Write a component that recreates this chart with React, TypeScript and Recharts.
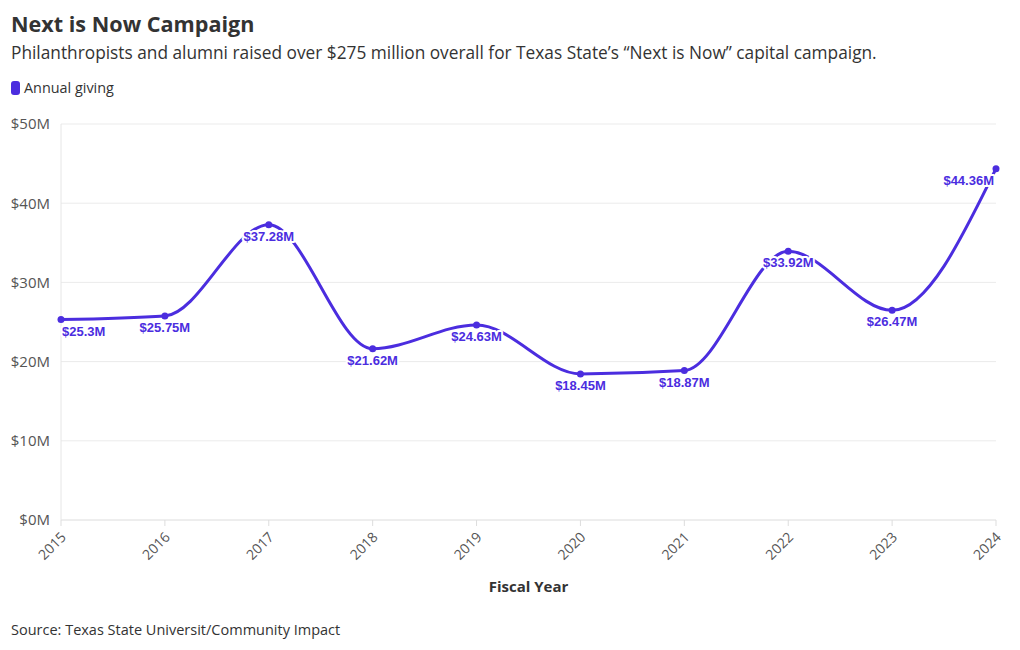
import { LineChart, Line, XAxis, YAxis, CartesianGrid, LabelList } from "recharts";

const years = ["2015", "2016", "2017", "2018", "2019", "2020", "2021", "2022", "2023", "2024"];
const annualGiving = [25.3, 25.75, 37.28, 21.62, 24.63, 18.45, 18.87, 33.92, 26.47, 44.36];
const yTicks = [0, 10, 20, 30, 40, 50];

const data = years.map((year, i) => ({ year, giving: annualGiving[i] }));

const PURPLE = "#4b2ddf";
const TEXT = "#333333";
const FONT = "'Open Sans', 'Noto Sans', sans-serif";

function YearTick(props: any) {
  const { x, y, payload } = props;
  return (
    <g transform={`translate(${x + 6},${y + 10})`}>
      <text
        x={0}
        y={0}
        textAnchor="end"
        transform="rotate(-45)"
        fill="#555"
        fontSize={14}
        fontFamily={FONT}
      >
        {payload.value}
      </text>
    </g>
  );
}

function ValueLabel(props: any) {
  const { x, y, value, index } = props;
  const last = index === years.length - 1;
  const anchor = index === 0 ? "start" : last ? "end" : "middle";
  const dx = index === 0 ? 1 : last ? -2 : 0;
  return (
    <text
      x={x + dx}
      y={y + 16}
      textAnchor={anchor}
      fill={PURPLE}
      stroke="#fff"
      strokeWidth={4}
      paintOrder="stroke"
      strokeLinejoin="round"
      fontSize={13}
      fontWeight={700}
      fontFamily="'Liberation Sans', Arial, sans-serif"
    >
      {`$${value}M`}
    </text>
  );
}

export default function App() {
  return (
    <div
      style={{
        position: "absolute",
        left: 0,
        top: 0,
        width: 1020,
        height: 650,
        background: "#fff",
        fontFamily: FONT,
        color: TEXT,
      }}
    >
      <div style={{ position: "absolute", left: 11, top: 8, fontSize: 21.6, fontWeight: 700, lineHeight: "32px" }}>
        Next is Now Campaign
      </div>
      <div style={{ position: "absolute", left: 11, top: 41, fontSize: 17.3, lineHeight: "24px", whiteSpace: "nowrap" }}>
        Philanthropists and alumni raised over $275 million overall for Texas State’s “Next is Now” capital campaign.
      </div>
      <div style={{ position: "absolute", left: 11, top: 78, display: "flex", alignItems: "center", fontSize: 14.4 }}>
        <span style={{ display: "inline-block", width: 9, height: 14, borderRadius: 3, background: PURPLE, marginRight: 4 }} />
        <span>Annual giving</span>
      </div>

      <div style={{ position: "absolute", left: 0, top: 0 }}>
        <LineChart width={1020} height={650} data={data} margin={{ top: 124, right: 24, bottom: 80, left: 11 }}>
          <CartesianGrid vertical={false} stroke="#ebebeb" />
          <XAxis
            dataKey="year"
            height={50}
            padding={{ left: 0, right: 0 }}
            axisLine={{ stroke: "#e6e6e6" }}
            tickLine={{ stroke: "#dddddd" }}
            tickSize={6}
            tickMargin={2}
            interval={0}
            tick={<YearTick />}
          />
          <YAxis
            width={50}
            domain={[0, 50]}
            ticks={yTicks}
            tickFormatter={(v) => `$${v}M`}
            axisLine={{ stroke: "#e6e6e6" }}
            tickLine={false}
            tickSize={6}
            tickMargin={5}
            tick={{ fill: "#555", fontSize: 15, fontFamily: FONT }}
          />
          <Line
            type="monotone"
            dataKey="giving"
            stroke={PURPLE}
            strokeWidth={3}
            dot={{ r: 3.5, fill: PURPLE, stroke: "none" }}
            activeDot={false}
            isAnimationActive={false}
          >
            <LabelList dataKey="giving" content={<ValueLabel />} />
          </Line>
        </LineChart>
      </div>

      <div style={{ position: "absolute", left: 0, width: 1057, top: 576, textAlign: "center", fontSize: 15, fontWeight: 700 }}>
        Fiscal Year
      </div>
      <div style={{ position: "absolute", left: 11, top: 620, fontSize: 14.5 }}>
        Source: Texas State Universit/Community Impact
      </div>
    </div>
  );
}
